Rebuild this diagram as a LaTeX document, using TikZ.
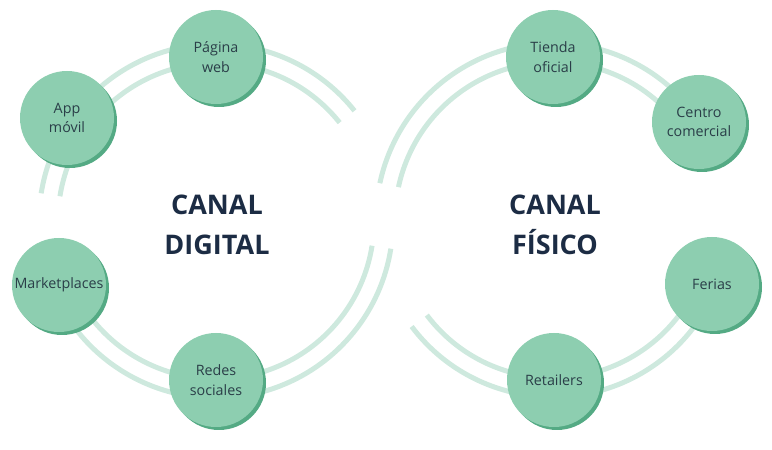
\documentclass[tikz,border=0pt]{standalone}
\usepackage{fontspec}
\setmainfont{Open Sans}
\usetikzlibrary{shadows}

\definecolor{mint}{RGB}{141,206,176}
\definecolor{mintdark}{RGB}{84,170,132}
\definecolor{ringline}{RGB}{206,233,222}
\definecolor{textgray}{RGB}{42,62,72}
\definecolor{navy}{RGB}{28,44,68}

\begin{document}
\begin{tikzpicture}[x=1pt, y=1pt,
  channel/.style={circle, fill=mint, minimum size=94pt, inner sep=0pt, align=center,
    text=textgray, font=\fontsize{14.3}{19.5}\selectfont,
    drop shadow={shadow xshift=3pt, shadow yshift=-3pt, fill=mintdark, opacity=1}},
  ring/.style={draw=ringline, line width=5pt},
  title/.style={align=center, text=navy, font=\fontsize{27}{40}\selectfont\bfseries}]

  \useasboundingbox (0,0) rectangle (772,450);

  % Coordinates
  \coordinate (L) at (216, 229);
  \coordinate (R) at (553, 230);
  \def\rin{158}
  \def\rout{177}

  % Left ring (digital)
  \draw[ring] (L) ++(171:\rout) arc[start angle=171, end angle=38.5, radius=\rout];
  \draw[ring] (L) ++(171:\rin) arc[start angle=171, end angle=38.5, radius=\rin];
  \draw[ring] (L) ++(201:\rout) arc[start angle=201, end angle=351, radius=\rout];
  \draw[ring] (L) ++(201:\rin) arc[start angle=201, end angle=351, radius=\rin];

  % Right ring (physical)
  \draw[ring] (R) ++(34:\rout) arc[start angle=34, end angle=168, radius=\rout];
  \draw[ring] (R) ++(34:\rin) arc[start angle=34, end angle=168, radius=\rin];
  \draw[ring] (R) ++(217:\rout) arc[start angle=217, end angle=338, radius=\rout];
  \draw[ring] (R) ++(217:\rin) arc[start angle=217, end angle=338, radius=\rin];

  % Digital channels
  \node[channel] (web) at (216, 393) {Página\\web};
  \node[channel] (app) at (67, 332) {App\\móvil};
  \node[channel] (market) at (59, 165) {Marketplaces};
  \node[channel] (redes) at (216, 70) {Redes\\sociales};

  % Physical channels
  \node[channel] (tienda) at (553, 393) {Tienda\\oficial};
  \node[channel] (centro) at (699, 328) {Centro\\comercial};
  \node[channel] (ferias) at (712, 166) {Ferias};
  \node[channel] (retail) at (554, 70) {Retailers};

  % Titles
  \node[title] (digital) at (217, 225) {CANAL\\DIGITAL};
  \node[title] (fisico) at (555, 225) {CANAL\\FÍSICO};

\end{tikzpicture}
\end{document}
